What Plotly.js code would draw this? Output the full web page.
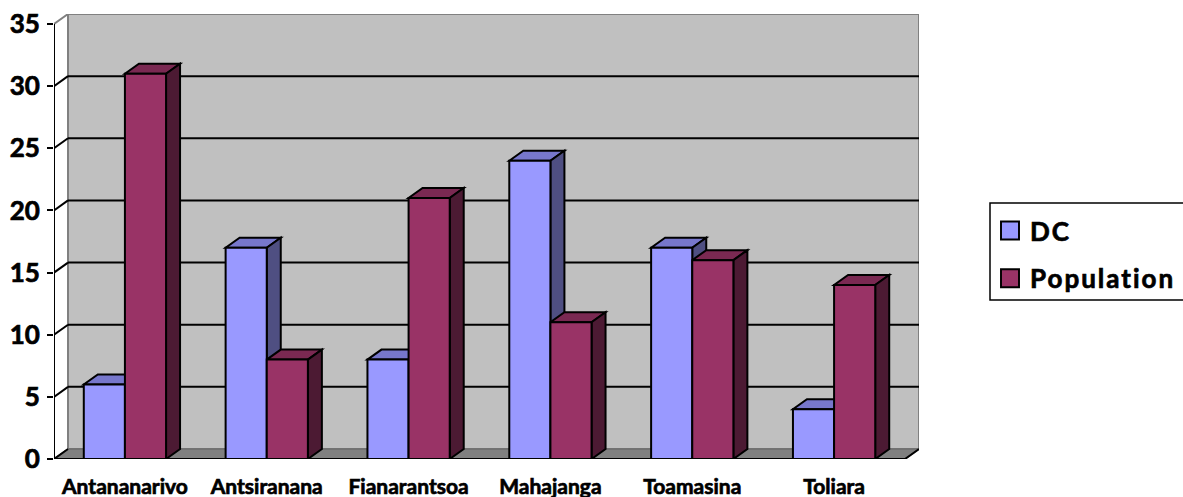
<!DOCTYPE html>
<html>
<head>
<meta charset="utf-8">
<script src="https://cdn.plot.ly/plotly-3.0.1.min.js"></script>
<style>
  html, body { margin: 0; padding: 0; background: #ffffff; }
  #chart { width: 1183px; height: 497px; }
</style>
</head>
<body>
<div id="chart"></div>
<script>
// Regional figures: DC count vs. population share, by province
const categories = ['Antananarivo', 'Antsiranana', 'Fianarantsoa', 'Mahajanga', 'Toamasina', 'Toliara'];
const dcValues = [6, 17, 8, 24, 17, 4];
const populationValues = [31, 8, 21, 11, 16, 14];
const yTicks = [0, 5, 10, 15, 20, 25, 30, 35];

// Page geometry and the pseudo-3D depth of the box (pixels)
const W = 1183, H = 497;
const margin = { l: 54, r: 264, t: 14, b: 38, pad: 0 };
const depthPx = { x: 14, y: 10 };
const barWidth = 0.29;

const plotW = W - margin.l - margin.r;
const plotH = H - margin.t - margin.b;
const yMax = yTicks[yTicks.length - 1];
const nCat = categories.length;

// Convert the depth offset into data units of each axis
const pxPerCat = (plotW - depthPx.x) / nCat;
const pxPerY = (plotH - depthPx.y) / yMax;
const dx = depthPx.x / pxPerCat;
const dy = depthPx.y / pxPerY;

const xLeft = -0.5, xRight = nCat - 0.5;

const series = [
  { name: 'DC', values: dcValues, offset: -barWidth, front: '#9999FF', top: '#7777CC', side: '#4F4F82' },
  { name: 'Population', values: populationValues, offset: 0, front: '#993366', top: '#7A2952', side: '#4C1A33' }
];

const xs = categories.map((_, i) => i);

const traces = series.map((s, k) => ({
  type: 'bar',
  name: s.name,
  x: xs,
  y: s.values,
  width: barWidth,
  offset: s.offset,
  legendgroup: 'g' + k,
  marker: { color: s.front, line: { color: '#000000', width: 2 } },
  hoverinfo: 'skip'
}));

function poly(pts) {
  return 'M' + pts.map(p => p[0] + ',' + p[1]).join('L') + 'Z';
}

const shapes = [];

// Back wall
shapes.push({
  type: 'rect', layer: 'below', xref: 'x', yref: 'y',
  x0: xLeft + dx, x1: xRight + dx, y0: dy, y1: yMax + dy,
  fillcolor: '#C0C0C0', line: { color: '#808080', width: 2 }
});
// Floor
shapes.push({
  type: 'path', layer: 'below', xref: 'x', yref: 'y',
  path: poly([[xLeft, 0], [xRight, 0], [xRight + dx, dy], [xLeft + dx, dy]]),
  fillcolor: '#808080', line: { color: '#6E6E6E', width: 1.5 }
});
// Grid lines on the side and back walls
yTicks.forEach(v => {
  const isTop = v === yMax;
  const col = isTop ? '#808080' : '#000000';
  shapes.push({
    type: 'line', layer: 'below', xref: 'x', yref: 'y',
    x0: xLeft, y0: v, x1: xLeft + dx, y1: v + dy,
    line: { color: col, width: 2 }
  });
  if (v > 0 && !isTop) {
    shapes.push({
      type: 'line', layer: 'below', xref: 'x', yref: 'y',
      x0: xLeft + dx, y0: v + dy, x1: xRight + dx, y1: v + dy,
      line: { color: '#000000', width: 2 }
    });
  }
});

// Top and side faces of every column
series.forEach(s => {
  s.values.forEach((h, i) => {
    const x0 = i + s.offset, x1 = x0 + barWidth;
    shapes.push({
      type: 'path', layer: 'below', xref: 'x', yref: 'y',
      path: poly([[x0, h], [x1, h], [x1 + dx, h + dy], [x0 + dx, h + dy]]),
      fillcolor: s.top, line: { color: '#000000', width: 2 }
    });
    shapes.push({
      type: 'path', layer: 'below', xref: 'x', yref: 'y',
      path: poly([[x1, 0], [x1 + dx, dy], [x1 + dx, h + dy], [x1, h]]),
      fillcolor: s.side, line: { color: '#000000', width: 2 }
    });
  });
});

// Front axis lines
shapes.push({
  type: 'line', layer: 'above', xref: 'x', yref: 'y',
  x0: xLeft, y0: 0, x1: xLeft, y1: yMax,
  line: { color: '#000000', width: 2 }
});
shapes.push({
  type: 'line', layer: 'above', xref: 'x', yref: 'y',
  x0: xLeft, y0: 0, x1: xRight, y1: 0,
  line: { color: '#000000', width: 2 }
});
shapes.push({
  type: 'line', layer: 'above', xref: 'x', yref: 'y',
  x0: xRight, y0: 0, x1: xRight + dx, y1: dy,
  line: { color: '#000000', width: 2 }
});
// Category boundary tick marks
for (let b = 0; b <= nCat; b++) {
  shapes.push({
    type: 'line', layer: 'above', xref: 'x', yref: 'y',
    ysizemode: 'pixel', yanchor: 0, y0: 0, y1: -7,
    x0: xLeft + b, x1: xLeft + b,
    line: { color: '#000000', width: 2 }
  });
}

// Legend frame (runs past the right edge of the page)
const legLeft = 990, legTop = 203, legBottom = 300;
shapes.push({
  type: 'rect', layer: 'above', xref: 'paper', yref: 'paper',
  x0: (legLeft - margin.l) / plotW, x1: (W + 20 - margin.l) / plotW,
  y0: (H - margin.b - legBottom) / plotH, y1: (H - margin.b - legTop) / plotH,
  fillcolor: 'rgba(0,0,0,0)', line: { color: '#000000', width: 1.5 }
});

const font = 'Lato, "Open Sans", sans-serif';

const layout = {
  width: W, height: H,
  margin: Object.assign({ autoexpand: false }, margin),
  paper_bgcolor: '#ffffff',
  plot_bgcolor: '#ffffff',
  barmode: 'overlay',
  showlegend: true,
  font: { family: font, color: '#000000' },
  xaxis: {
    range: [xLeft, xRight + dx],
    tickvals: xs,
    ticktext: categories,
    ticks: '',
    showgrid: false, zeroline: false, showline: false,
    ticklabelstandoff: 13,
    tickfont: { family: font, size: 21, color: '#000000', weight: 'bold' },
    fixedrange: true
  },
  yaxis: {
    range: [0, yMax + dy],
    tickvals: yTicks,
    ticks: 'outside', ticklen: 6, tickwidth: 2, tickcolor: '#000000',
    showgrid: false, zeroline: false, showline: false,
    ticklabelstandoff: 2,
    tickfont: { family: font, size: 26, color: '#000000', weight: 'bold' },
    fixedrange: true
  },
  legend: {
    x: (legLeft - margin.l) / plotW,
    y: (H - margin.b - legTop - 4) / plotH,
    xanchor: 'left', yanchor: 'top',
    bgcolor: 'rgba(255,255,255,0)', borderwidth: 0,
    font: { family: font, size: 26, color: '#000000', weight: 'bold' },
    tracegroupgap: 11,
    traceorder: 'grouped'
  },
  shapes: shapes
};

Plotly.newPlot('chart', traces, layout, { staticPlot: true, displayModeBar: false }).then(gd => {
  // Larger legend swatches, keeping their existing placement
  gd.querySelectorAll('.legendpoints path').forEach(p => {
    const t = p.getAttribute('transform') || '';
    p.setAttribute('transform', (t + ' scale(1.5)').trim());
    p.style.strokeWidth = '1.3px';
  });
  // Heavier lettering for the axis and legend labels
  gd.querySelectorAll('.xtick text, .ytick text, .legendtext').forEach(el => {
    el.style.stroke = '#000000';
    el.style.strokeWidth = '0.7px';
  });
  // Slightly wider legend lettering; the legend box is framed separately,
  // so its own clipping is dropped to let the wider text show
  gd.querySelectorAll('.legendtext').forEach(el => {
    el.style.letterSpacing = '2px';
  });
  gd.querySelectorAll('.legend [clip-path]').forEach(el => el.removeAttribute('clip-path'));
});
</script>
</body>
</html>
